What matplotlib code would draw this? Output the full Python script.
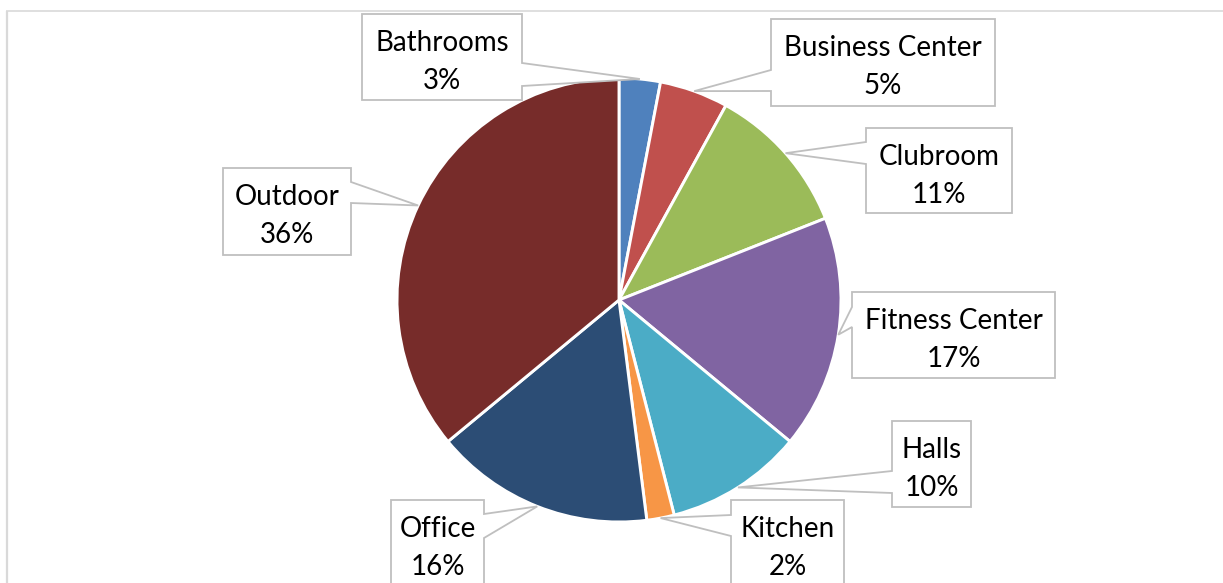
import numpy as np
import matplotlib
matplotlib.use("Agg")
import matplotlib.pyplot as plt
from matplotlib.patches import Polygon

# Share of items by area
categories = ["Bathrooms", "Business Center", "Clubroom", "Fitness Center",
              "Halls", "Kitchen", "Office", "Outdoor"]
shares = [3, 5, 11, 17, 10, 2, 16, 36]
colors = ["#4F81BD", "#C0504D", "#9BBB59", "#8064A2",
          "#4BACC6", "#F79646", "#2C4D75", "#772C2A"]

# Callout boxes (pixel layout): left, top, right, bottom, pointer side, pointer edge span
callouts = {
    "Bathrooms":       (362, 14, 522, 100, "right", 63, 86),
    "Business Center": (771, 19, 995, 106, "left", 70, 91),
    "Clubroom":        (866, 128, 1012, 213, "left", 142, 164),
    "Fitness Center":  (852, 292, 1055, 378, "left", 307, 327),
    "Halls":           (892, 421, 971, 507, "left", 471, 493),
    "Kitchen":         (731, 500, 844, 640, "left", 515, 536),
    "Office":          (391, 500, 484, 640, "right", 514, 538),
    "Outdoor":         (223, 168, 351, 255, "right", 182, 203),
}

W, H = 1223, 583
CX, CY, R = 619, 300, 222

fig = plt.figure(figsize=(W / 100, H / 100), dpi=100)
ax = fig.add_axes([0, 0, 1, 1])

# y axis runs downward, so startangle=-90 is the top and counterclock=True turns clockwise on screen
wedges, _ = ax.pie(shares, colors=colors, startangle=-90, counterclock=True,
                   center=(CX, CY), radius=R,
                   wedgeprops=dict(edgecolor="white", linewidth=2.1))

ax.set_xlim(0, W)
ax.set_ylim(H, 0)
ax.set_aspect("equal")
ax.axis("off")

# chart area border
ax.plot([6, W + 5], [11, 11], color="#d9d9d9", lw=1.2, solid_capstyle="butt")
ax.plot([6.5, 6.5], [11, H + 5], color="#d9d9d9", lw=1.6, solid_capstyle="butt")

font = dict(family=["Lato", "DejaVu Sans"], fontsize=20, color="black")

for wedge, name, val in zip(wedges, categories, shares):
    x0, y0, x1, y1, side, pa, pb = callouts[name]
    mid = np.deg2rad((wedge.theta1 + wedge.theta2) / 2)
    tip = (CX + R * np.cos(mid), CY + R * np.sin(mid))
    if side == "right":
        verts = [(x0, y0), (x1, y0), (x1, pa), tip, (x1, pb), (x1, y1), (x0, y1)]
    else:
        verts = [(x0, y0), (x1, y0), (x1, y1), (x0, y1), (x0, pb), tip, (x0, pa)]
    ax.add_patch(Polygon(verts, closed=True, facecolor="white",
                         edgecolor="#bfbfbf", lw=1.3, zorder=3))
    cx = (x0 + x1) / 2
    ty = y0 + 29
    ax.text(cx, ty, name, ha="center", va="center", zorder=4, **font)
    ax.text(cx, ty + 38, f"{val}%", ha="center", va="center", zorder=4, **font)

fig.savefig("out.png", dpi=100, facecolor="white")
